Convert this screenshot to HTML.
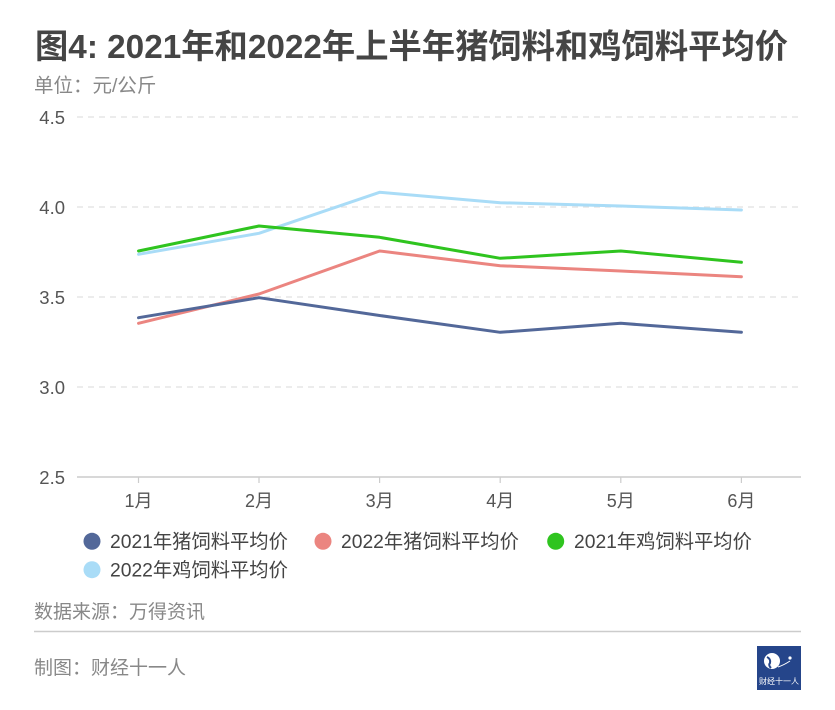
<!DOCTYPE html>
<html><head><meta charset="utf-8"><style>
html,body{margin:0;padding:0;background:#fff;}
body{width:835px;height:710px;overflow:hidden;}
svg{display:block;}
text{font-family:"Liberation Sans","Noto Sans CJK SC",sans-serif;}
</style></head><body>
<svg width="835" height="710" viewBox="0 0 835 710" xmlns="http://www.w3.org/2000/svg">
<text x="35" y="58" font-size="33.3" font-weight="bold" fill="#454545">图4: 2021年和2022年上半年猪饲料和鸡饲料平均价</text>
<text x="34" y="92" font-size="19.5" fill="#888">单位：元/公斤</text>
<g stroke="#e0e0e0" stroke-width="1.2" stroke-dasharray="6,5">
<line x1="77" y1="117" x2="801" y2="117"/>
<line x1="77" y1="207" x2="801" y2="207"/>
<line x1="77" y1="297" x2="801" y2="297"/>
<line x1="77" y1="387" x2="801" y2="387"/>
</g>
<line x1="77" y1="477" x2="801" y2="477" stroke="#ccc" stroke-width="1.5"/>
<g stroke="#ccc" stroke-width="1.2">
<line x1="138.5" y1="477" x2="138.5" y2="483"/>
<line x1="259" y1="477" x2="259" y2="483"/>
<line x1="379.6" y1="477" x2="379.6" y2="483"/>
<line x1="500.2" y1="477" x2="500.2" y2="483"/>
<line x1="620.8" y1="477" x2="620.8" y2="483"/>
<line x1="741.4" y1="477" x2="741.4" y2="483"/>
</g>
<g font-size="18.5" fill="#555" text-anchor="end">
<text x="65" y="124">4.5</text>
<text x="65" y="214">4.0</text>
<text x="65" y="304">3.5</text>
<text x="65" y="394">3.0</text>
<text x="65" y="484">2.5</text>
</g>
<g font-size="18" fill="#555" text-anchor="middle">
<text x="138.5" y="507">1月</text>
<text x="259" y="507">2月</text>
<text x="379.6" y="507">3月</text>
<text x="500.2" y="507">4月</text>
<text x="620.8" y="507">5月</text>
<text x="741.4" y="507">6月</text>
</g>
<g fill="none" stroke-width="3" stroke-linejoin="round" stroke-linecap="round">
<polyline stroke="#a9dcf7" points="138.5,254.3 259,233.3 379.6,192.3 500.2,202.7 620.8,206 741.4,210"/>
<polyline stroke="#eb8580" points="138.5,323.3 259,294 379.6,251 500.2,265.7 620.8,271 741.4,276.7"/>
<polyline stroke="#2fc41f" points="138.5,251 259,226 379.6,237.3 500.2,258.3 620.8,251 741.4,262.3"/>
<polyline stroke="#536899" points="138.5,317.7 259,297.7 379.6,315.5 500.2,332.3 620.8,323.3 741.4,332.3"/>
</g>
<g font-size="19.3" fill="#444">
<circle cx="92" cy="541.3" r="8.5" fill="#536899"/>
<text x="110" y="548">2021年猪饲料平均价</text>
<circle cx="323" cy="541.3" r="8.5" fill="#eb8580"/>
<text x="341" y="548">2022年猪饲料平均价</text>
<circle cx="555.7" cy="541.3" r="8.5" fill="#2fc41f"/>
<text x="574" y="548">2021年鸡饲料平均价</text>
<circle cx="92" cy="569.7" r="8.5" fill="#a9dcf7"/>
<text x="110" y="576.5">2022年鸡饲料平均价</text>
</g>
<text x="34" y="618" font-size="19" fill="#888">数据来源：万得资讯</text>
<line x1="34" y1="631.5" x2="801" y2="631.5" stroke="#ccc" stroke-width="1.5"/>
<text x="34" y="674" font-size="19" fill="#888">制图：财经十一人</text>
<rect x="757" y="646" width="44" height="44" fill="#25458a"/>
<circle cx="772" cy="661" r="8" fill="#fff"/>
<path d="M767,657 q4,2 3,6 q-2,2 1,5" stroke="#25458a" stroke-width="2" fill="none"/>
<path d="M778,667 q6,-2 12,-6" stroke="#fff" stroke-width="1" fill="none"/>
<circle cx="790" cy="658" r="1.6" fill="#fff"/>
<text x="779" y="684" font-size="8" fill="#fff" text-anchor="middle">财经十一人</text>
</svg>
</body></html>
